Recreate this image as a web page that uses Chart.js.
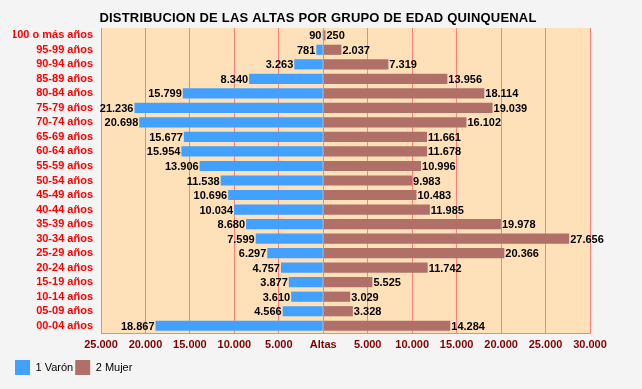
<!DOCTYPE html>
<html>
<head>
<meta charset="utf-8">
<script src="https://cdn.jsdelivr.net/npm/chart.js@4.4.0/dist/chart.umd.min.js"></script>
<style>
  body { margin: 0; background: #f4f4f4; }
  #wrap { width: 642px; height: 389px; }
</style>
</head>
<body>
<div id="wrap"><canvas id="chart" width="642" height="389"></canvas></div>
<script>
var grupos = ['100 o más años', '95-99 años', '90-94 años', '85-89 años', '80-84 años', '75-79 años',
    '70-74 años', '65-69 años', '60-64 años', '55-59 años', '50-54 años', '45-49 años', '40-44 años',
    '35-39 años', '30-34 años', '25-29 años', '20-24 años', '15-19 años', '10-14 años', '05-09 años', '00-04 años'];
var varon = [90, 781, 3263, 8340, 15799, 21236, 20698, 15677, 15954, 13906, 11538, 10696, 10034,
    8680, 7599, 6297, 4757, 3877, 3610, 4566, 18867];
var mujer = [250, 2037, 7319, 13956, 18114, 19039, 16102, 11661, 11678, 10996, 9983, 10483, 11985,
    19978, 27656, 20366, 11742, 5525, 3029, 3328, 14284];
var titulo = 'DISTRIBUCION DE LAS ALTAS POR GRUPO DE EDAD QUINQUENAL';

var fuente = '"Liberation Sans", Arial, sans-serif';

function puntos(n) {
    return Math.abs(n).toString().replace(/\B(?=(\d{3})+(?!\d))/g, '.');
}

// fondo del area de dibujo y titulo
var fondo = {
    id: 'fondo',
    beforeDraw: function (chart) {
        var a = chart.chartArea;
        var ctx = chart.ctx;
        ctx.save();
        ctx.fillStyle = '#fee0b9';
        ctx.fillRect(a.left, a.top, a.right - a.left, a.bottom - a.top);
        ctx.fillStyle = '#000';
        ctx.font = 'bold 13px ' + fuente;
        ctx.letterSpacing = '0.2px';
        ctx.textAlign = 'center';
        ctx.textBaseline = 'middle';
        ctx.fillText(titulo, 318, 18);
        ctx.restore();
    }
};

// numeros al final de cada barra
var etiquetas = {
    id: 'etiquetas',
    afterDatasetsDraw: function (chart) {
        var ctx = chart.ctx;
        ctx.save();
        ctx.font = 'bold 11px ' + fuente;
        ctx.fillStyle = '#000';
        ctx.textBaseline = 'middle';
        chart.data.datasets.forEach(function (ds, d) {
            var meta = chart.getDatasetMeta(d);
            meta.data.forEach(function (bar, i) {
                var v = ds.data[i];
                if (v < 0) {
                    ctx.textAlign = 'right';
                    ctx.fillText(puntos(v), bar.x - 1, bar.y + 1);
                } else {
                    ctx.textAlign = 'left';
                    ctx.fillText(puntos(v), bar.x + 1, bar.y + 1);
                }
            });
        });
        ctx.restore();
    }
};

var chart = new Chart(document.getElementById('chart').getContext('2d'), {
    type: 'bar',
    data: {
        labels: grupos,
        datasets: [{
            label: '1 Varón',
            data: varon.map(function (v) { return -v; }),
            backgroundColor: '#42a0ff',
            barPercentage: 0.7,
            categoryPercentage: 1
        }, {
            label: '2 Mujer',
            data: mujer,
            backgroundColor: '#b07068',
            barPercentage: 0.7,
            categoryPercentage: 1
        }]
    },
    options: {
        indexAxis: 'y',
        responsive: false,
        animation: false,
        layout: { padding: { left: 13, right: 52, top: 28, bottom: 4 } },
        scales: {
            x: {
                stacked: true,
                min: -25000,
                max: 30000,
                ticks: {
                    stepSize: 5000,
                    color: '#800000',
                    font: { family: fuente, size: 11, weight: 'bold' },
                    padding: 5,
                    maxRotation: 0,
                    callback: function (v) { return v === 0 ? 'Altas' : puntos(v); }
                },
                grid: { color: '#ff8080', drawTicks: false },
                border: { color: '#ff8080' },
                afterFit: function (axis) { axis.height = 25; }
            },
            y: {
                stacked: true,
                ticks: {
                    color: '#ff0000',
                    font: { family: fuente, size: 11, weight: 'bold' },
                    padding: 8,
                    autoSkip: false
                },
                grid: { display: false, drawTicks: false },
                border: { display: false },
                afterFit: function (axis) { axis.width = 88; }
            }
        },
        plugins: {
            title: { display: false },
            legend: {
                position: 'bottom',
                align: 'start',
                labels: {
                    boxWidth: 15,
                    boxHeight: 15,
                    padding: 2,
                    color: '#000',
                    font: { family: fuente, size: 11 }
                }
            },
            tooltip: { enabled: false }
        }
    },
    plugins: [fondo, etiquetas]
});
</script>
</body>
</html>
